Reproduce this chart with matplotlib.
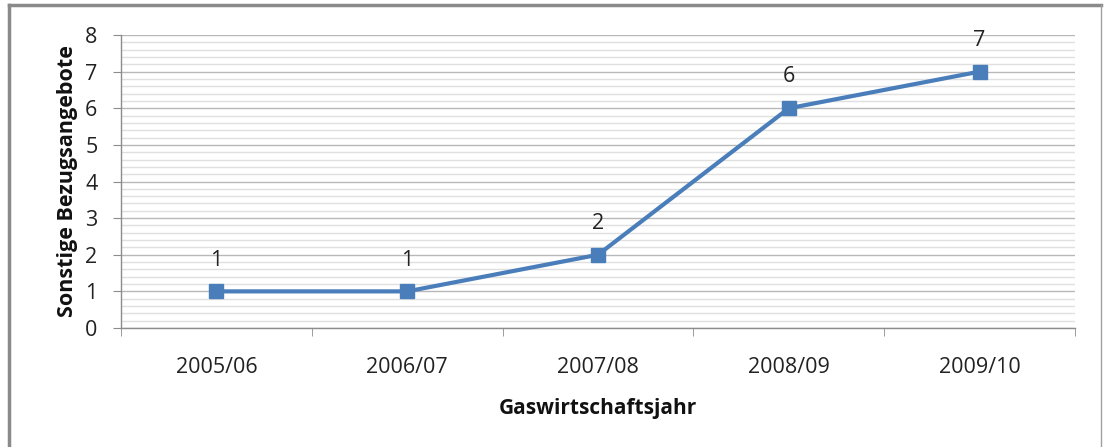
import matplotlib.pyplot as plt
from matplotlib.lines import Line2D
import numpy as np

# Data
jahre = ['2005/06', '2006/07', '2007/08', '2008/09', '2009/10']
angebote = [1, 1, 2, 6, 7]

plt.rcParams['font.family'] = ['Open Sans', 'DejaVu Sans']

W, H = 1104, 447
fig = plt.figure(figsize=(W / 100, H / 100), dpi=100)
ax = fig.add_axes([121 / W, 1 - 328 / H, (1075 - 121) / W, (328 - 35) / H])

x = np.arange(len(jahre))
blue = '#4a7ebb'
ax.plot(x, angebote, color=blue, linewidth=3, marker='s', markersize=10,
        zorder=3, solid_joinstyle='round')
for xi, v in zip(x, angebote):
    ax.annotate(str(v), (xi, v), xytext=(0, 22.5), textcoords='offset points',
                ha='center', va='center', fontsize=15.5, color='#222222')

ax.set_xlim(-0.5, len(jahre) - 0.5)
ax.set_ylim(0, 8)
ax.set_yticks(range(0, 9))
ax.set_yticks(np.arange(0, 8, 0.2), minor=True)
ax.set_xticks(x)
ax.set_xticklabels(jahre)
ax.set_xticks(np.arange(-0.5, len(jahre), 1), minor=True)

ax.grid(axis='y', which='major', color='#b8b8b8', linewidth=1)
ax.grid(axis='y', which='minor', color='#e0e0e0', linewidth=1)
ax.set_axisbelow(True)

for s in ['top', 'right']:
    ax.spines[s].set_visible(False)
for s in ['left', 'bottom']:
    ax.spines[s].set_color('#8c8c8c')
    ax.spines[s].set_linewidth(1)

ax.tick_params(axis='y', which='major', length=6, color='#8c8c8c', labelsize=15.5,
               labelcolor='#222222', pad=11)
ax.tick_params(axis='y', which='minor', length=0)
ax.tick_params(axis='x', which='major', length=0, labelsize=15.5,
               labelcolor='#222222', pad=21)
ax.tick_params(axis='x', which='minor', length=6, color='#8c8c8c')

ax.set_ylabel('Sonstige Bezugsangebote', fontsize=15.5, fontweight='bold',
              color='#111111', labelpad=5)
ax.set_xlabel('Gaswirtschaftsjahr', fontsize=15, fontweight='bold',
              color='#111111', labelpad=14)

# outer chart border
fig.add_artist(Line2D([9 / W, 9 / W], [0, 1 - 5 / H], transform=fig.transFigure,
                      color='#8a8a8a', linewidth=2.5))
fig.add_artist(Line2D([9 / W, 1101 / W], [1 - 5 / H, 1 - 5 / H], transform=fig.transFigure,
                      color='#8a8a8a', linewidth=2.5))
fig.add_artist(Line2D([1101 / W, 1101 / W], [0, 1 - 5 / H], transform=fig.transFigure,
                      color='#a0a0a0', linewidth=1))

fig.savefig('out.png', dpi=100)
